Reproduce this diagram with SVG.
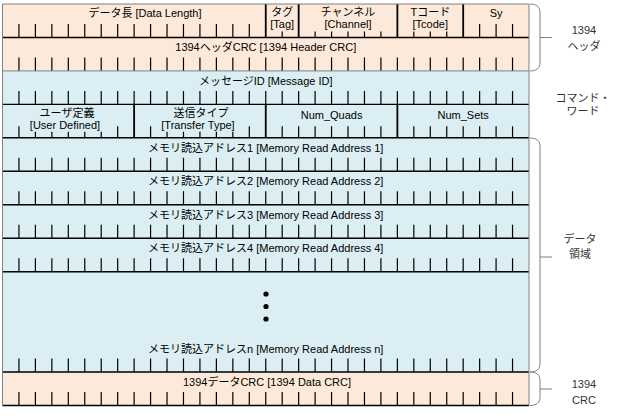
<svg xmlns="http://www.w3.org/2000/svg" width="618" height="416" viewBox="0 0 618 416">
<style>
.t{font-family:"Liberation Sans","Noto Sans CJK JP",sans-serif;font-size:11px;text-anchor:middle;fill:#000}
.lbl{font-family:"Liberation Sans","Noto Sans CJK JP",sans-serif;font-size:11px;text-anchor:middle;fill:#333}
.peach{fill:#FDE9D9}
.blue{fill:#DAEEF3}
.tk{stroke:#000;stroke-dasharray:1.2 15.253;fill:none}
.full{stroke-width:13.5}
.mid{stroke-width:11.5}
.short{stroke-width:6}
.one{stroke:#000;stroke-width:1.2;fill:none}
.sep{stroke:#000;stroke-width:1.4;fill:none}
.div{stroke:#000;stroke-width:1.8;fill:none}
.edge{stroke:#808080;stroke-width:1;fill:none}
.brace{stroke:#7f7f7f;stroke-width:1;fill:none}
</style>
<rect width="618" height="416" fill="#fff"/>
<!-- backgrounds -->
<rect class="peach" x="2.5" y="4" width="526.5" height="66.9"/>
<rect class="blue" x="2.5" y="70.9" width="526.5" height="301.1"/>
<rect class="peach" x="2.5" y="372" width="526.5" height="33.5"/>

<g id="row-header1">
  <line class="tk full" x1="18.35" y1="30.75" x2="249.9" y2="30.75"/>
  <line class="tk full" x1="479.04" y1="30.75" x2="513.15" y2="30.75"/>
  <line class="tk short" x1="281.6" y1="34.5" x2="282.8" y2="34.5"/>
  <line class="tk short" x1="314.51" y1="34.5" x2="381.52" y2="34.5"/>
  <line class="tk short" x1="413.23" y1="34.5" x2="447.34" y2="34.5"/>
  <path class="div" d="M265.75,4V37.5M298.66,4V37.5M397.38,4V37.5M463.19,4V37.5"/>
  <text class="t" x="145" y="17">データ長 [Data Length]</text>
  <text class="t" x="282.2" y="16">タグ</text>
  <text class="t" x="282.2" y="27.5">[Tag]</text>
  <text class="t" x="348" y="16">チャンネル</text>
  <text class="t" x="348" y="27.5">[Channel]</text>
  <text class="t" x="430.3" y="16">Tコード</text>
  <text class="t" x="430.3" y="27.5">[Tcode]</text>
  <text class="t" x="496.1" y="17">Sy</text>
</g>

<g id="row-header-crc">
  <line class="tk full" x1="18.35" y1="64.15" x2="513.15" y2="64.15"/>
  <text class="t" x="265.75" y="51">1394ヘッダCRC [1394 Header CRC]</text>
</g>

<g id="row-message-id">
  <line class="tk full" x1="18.35" y1="97.65" x2="513.15" y2="97.65"/>
  <text class="t" x="265.75" y="84.5">メッセージID [Message ID]</text>
</g>

<g id="row-command2">
  <path class="one" d="M18.95,137.8v-11.5M117.67,137.8v-11.5M150.58,137.8v-11.5M249.3,137.8v-11.5"/>
  <line class="tk short" x1="34.81" y1="134.8" x2="101.82" y2="134.8"/>
  <line class="tk short" x1="166.43" y1="134.8" x2="233.44" y2="134.8"/>
  <line class="tk mid" x1="281.6" y1="132.05" x2="381.52" y2="132.05"/>
  <line class="tk mid" x1="413.23" y1="132.05" x2="513.15" y2="132.05"/>
  <path class="div" d="M134.13,104.4V137.8M265.75,104.4V137.8M397.38,104.4V137.8"/>
  <text class="t" x="67" y="117">ユーザ定義</text>
  <text class="t" x="65" y="129">[User Defined]</text>
  <text class="t" x="201" y="117">送信タイプ</text>
  <text class="t" x="198" y="129">[Transfer Type]</text>
  <text class="t" x="331.6" y="118.5">Num_Quads</text>
  <text class="t" x="463.2" y="118.5">Num_Sets</text>
</g>

<g id="row-address1">
  <line class="tk full" x1="18.35" y1="164.55" x2="513.15" y2="164.55"/>
  <text class="t" x="265.75" y="151.5">メモリ読込アドレス1 [Memory Read Address 1]</text>
</g>
<g id="row-address2">
  <line class="tk full" x1="18.35" y1="198.05" x2="513.15" y2="198.05"/>
  <text class="t" x="265.75" y="185">メモリ読込アドレス2 [Memory Read Address 2]</text>
</g>
<g id="row-address3">
  <line class="tk full" x1="18.35" y1="231.45" x2="513.15" y2="231.45"/>
  <text class="t" x="265.75" y="218.5">メモリ読込アドレス3 [Memory Read Address 3]</text>
</g>
<g id="row-address4">
  <line class="tk full" x1="18.35" y1="264.95" x2="513.15" y2="264.95"/>
  <text class="t" x="265.75" y="252">メモリ読込アドレス4 [Memory Read Address 4]</text>
</g>
<g id="row-addressn">
  <circle cx="266" cy="294" r="2.6" fill="#000"/>
  <circle cx="266" cy="306.5" r="2.6" fill="#000"/>
  <circle cx="266" cy="319" r="2.6" fill="#000"/>
  <line class="tk full" x1="18.35" y1="365.25" x2="513.15" y2="365.25"/>
  <text class="t" x="265.75" y="352.5">メモリ読込アドレスn [Memory Read Address n]</text>
</g>
<g id="row-data-crc">
  <line class="tk full" x1="18.35" y1="398.75" x2="513.15" y2="398.75"/>
  <text class="t" x="267" y="386">1394データCRC [1394 Data CRC]</text>
</g>

<g id="grid">
  <path class="sep" d="M2.5,37.5H529M2.5,104.4H529M2.5,137.8H529M2.5,171.3H529M2.5,204.8H529M2.5,238.2H529M2.5,271.7H529M2.5,372H529M2.5,405.5H529"/>
  <path class="edge" d="M2.5,70.9H529"/>
  <path class="edge" d="M2.5,405.5V4H529V405.5"/>
</g>

<g id="brackets">
  <path class="brace" d="M530,4C536.5,4 540,7 540,12V63C540,68 536.5,71 530,71M540,37.5H552"/>
  <path class="brace" d="M530,138C536.5,138 540,141 540,146V364C540,369 536.5,372 530,372M540,257H552"/>
  <path class="brace" d="M530,372C536.5,372 540,375 540,380V397.5C540,402.5 536.5,405.5 530,405.5M540,389H552"/>
</g>

<g id="labels">
  <text class="lbl" x="584" y="33.5">1394</text>
  <text class="lbl" x="584" y="49.5">ヘッダ</text>
  <text class="lbl" x="583" y="101.5">コマンド・</text>
  <text class="lbl" x="583" y="114.5">ワード</text>
  <text class="lbl" x="580" y="242.5">データ</text>
  <text class="lbl" x="580" y="257.5">領域</text>
  <text class="lbl" x="584" y="387.5">1394</text>
  <text class="lbl" x="584" y="404">CRC</text>
</g>
</svg>
